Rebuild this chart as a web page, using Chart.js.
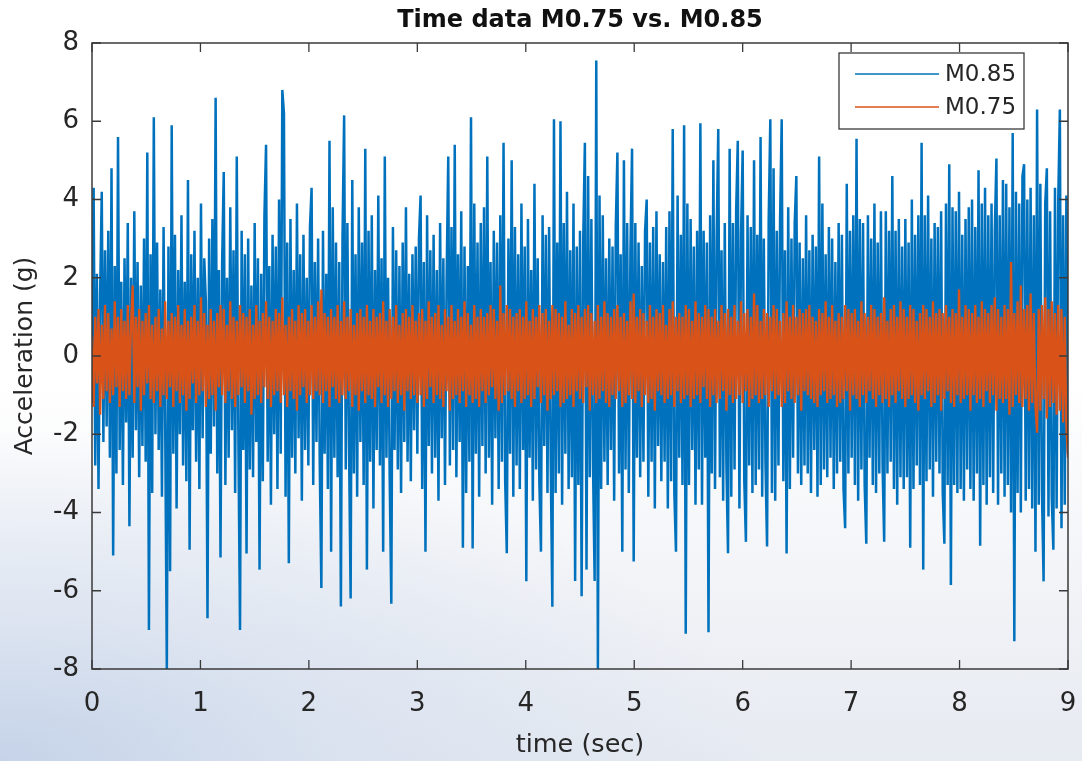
<!DOCTYPE html>
<html>
<head>
<meta charset="utf-8">
<script src="https://cdn.jsdelivr.net/npm/chart.js@4.4.0/dist/chart.umd.min.js"></script>
<style>
  html, body { margin: 0; padding: 0; width: 1082px; height: 761px; overflow: hidden; }
  body {
    background:
      radial-gradient(ellipse 760px 330px at 0% 100%, rgba(196,210,232,0.95) 0%, rgba(210,221,238,0.6) 45%, rgba(230,236,245,0) 100%),
      linear-gradient(to bottom, #ffffff 0%, #ffffff 50%, #f0f2f6 80%, #e6eaf1 100%);
  }
  #wrap { position: relative; width: 1082px; height: 761px; }
</style>
</head>
<body>
<div id="wrap"><canvas id="c" width="1082" height="761"></canvas></div>
<script>
// ---------------- data ----------------
const chartTitle = 'Time data M0.75 vs. M0.85';
const xAxisTitle = 'time (sec)';
const yAxisTitle = 'Acceleration (g)';
const seriesNames = ['M0.85', 'M0.75'];
const timeStart = 0;      // sec, first sample
const timeStep = 0.015;   // sec between plotted samples
const xTickValues = [0, 1, 2, 3, 4, 5, 6, 7, 8, 9];
const yTickValues = [-8, -6, -4, -2, 0, 2, 4, 6, 8];

// M0.85 acceleration (g) (20 samples = 0.3 s per row)
const accelM085 = [
  -1.2, 4.3, -2.8, 2.1, -3.4, 1.6, 4.2, -2.2, 2.7, -1.8, 3.2, -2.6, 4.8, -5.1, 2.3, -3.0, 5.6, -2.4, 1.9, -3.3,
  2.5, -1.7, 3.4, -4.35, 2.0, -2.6, 3.7, -1.9, 2.4, -3.1, 1.8, -2.3, 3.0, -2.7, 5.2, -7.0, 2.6, -3.5, 6.1, -2.0,
  2.9, -2.4, 1.7, -3.6, 3.3, -1.8, -8.0, 2.8, -5.5, 5.9, -2.5, 3.1, -3.9, 2.2, -2.0, 3.6, -2.8, 1.9, -3.2, 4.5,
  -4.95, 2.6, -1.9, 3.2, -2.7, 2.0, -3.4, 3.9, -2.1, 2.5, 1.4, -6.7, 3.0, -2.5, 3.5, -1.8, 6.6, -3.0, 2.2, -5.15,
  2.4, 4.7, -3.3, 2.0, -2.6, 3.8, -1.9, 2.7, -3.5, 5.1, -2.2, -7.0, 3.2, -2.4, 2.6, -5.05, 3.0, -2.9, 1.8, -3.1,
  3.4, -2.2, 2.5, -5.46, 2.1, -3.2, 3.6, 5.4, -2.7, 2.3, -3.8, 3.1, -2.0, 2.8, -3.4, 4.0, -2.5, 6.8, 6.2, -3.6,
  2.9, -5.3, 3.5, -2.6, 2.2, -3.0, 3.9, -2.1, 2.6, -3.7, 3.1, -2.4, 2.0, -2.8, 3.3, 4.3, -3.3, 2.4, -2.2, 3.0,
  -2.7, -5.93, 3.2, -2.5, 2.1, -3.4, 5.5, -5.0, 3.8, -2.6, 2.9, -3.1, 2.4, -6.4, 3.0, 6.15, -2.9, 3.4, -2.3, -6.2,
  4.5, -3.0, 2.6, -3.6, 3.8, -2.2, 2.9, -3.3, 5.3, -5.46, 3.2, -2.7, 3.6, -3.9, 2.2, -2.4, 4.1, -2.8, 2.5, -5.0,
  5.1, -2.6, 2.0, -3.1, -6.33, 3.3, -2.4, 2.7, -2.9, 2.3, -3.5, 2.9, -2.2, 3.8, -2.7, 2.1, -3.2, 2.6, -1.9, 2.8,
  -2.5, 3.0, 4.1, -3.4, 2.4, -5.0, 3.6, -2.3, 2.7, -3.0, 3.1, -2.6, 2.2, -3.7, 3.4, -2.1, 2.5, -3.3, 2.0, 5.1,
  -2.8, 3.3, -2.4, 5.4, -3.1, 2.6, -2.2, 3.7, -4.9, 2.8, -3.5, 2.3, -2.7, 6.1, -4.92, 3.9, -2.5, 2.9, -3.6, 3.4,
  -2.3, 3.8, -3.0, 5.1, -2.6, 2.4, -3.8, 3.2, -2.1, 2.9, -3.4, 3.6, -2.7, 5.45, -3.2, -5.04, 3.0, -2.5, 5.0, -3.6,
  3.3, -2.8, 2.6, -3.4, 3.9, -2.4, 2.8, -5.76, 3.5, -2.6, 2.2, -3.7, 4.4, -2.9, 2.5, -3.2, -5.0, 3.6, -2.3, 3.1,
  -3.5, 3.3, -2.7, -6.41, 6.05, -3.5, 2.9, -3.0, 6.0, -3.8, 3.4, -2.5, 4.2, -3.4, 2.7, -3.1, 3.9, -5.75, 2.8, -3.3,
  3.2, -6.14, 3.0, 5.45, -5.46, 4.6, -3.1, 3.5, -2.8, -5.75, 7.55, -8.0, 4.1, -3.4, 3.6, -2.7, 2.5, -3.3, 3.0, -2.4,
  2.8, -3.7, 3.3, 5.2, -3.0, 2.6, -5.0, 5.0, -2.9, 3.4, -3.5, 2.7, 5.3, -5.25, 3.4, -2.6, 2.9, -3.1, 2.3, -2.7,
  3.2, 4.0, -3.6, 2.9, -2.7, 3.3, -3.9, 3.7, -2.3, 2.6, -3.2, 2.4, -2.7, 3.3, -3.9, 3.7, -3.2, 5.8, -3.5, -5.0,
  4.1, -2.6, 3.1, -3.3, 5.9, -7.1, 3.9, -3.3, 3.5, -2.4, 2.8, -3.8, 3.2, -2.9, 5.95, -3.8, 3.2, -2.6, 2.9, -7.06,
  3.6, -3.0, 5.0, -3.4, 3.0, 5.8, -3.1, 2.7, -3.7, 3.4, -2.8, -5.04, 5.3, -3.6, 3.4, -2.9, 3.7, 5.5, -3.9, 3.1,
  5.25, -3.2, -4.75, 3.6, -2.8, 3.3, -3.5, 5.0, -3.3, 3.1, -2.9, 5.6, -3.6, 3.0, -2.7, -4.87, 3.5, 6.05, -3.5, 4.8,
  -3.7, 3.2, -2.8, 3.5, 6.05, -3.2, 2.7, -5.05, 3.8, -3.4, 3.0, -2.6, 3.4, 4.6, -3.0, 2.9, -3.3, 2.5, -2.8, 3.6,
  -3.0, 2.7, -3.5, 3.1, -2.4, 2.8, -3.6, 5.1, -3.3, 3.9, -2.9, 2.6, -3.1, 3.3, -2.6, 3.0, -3.4, 2.4, -3.0, 3.4,
  -2.7, 3.1, -3.4, -4.4, 4.4, -3.0, 3.2, -2.6, 3.6, -3.3, 5.55, -3.7, 3.5, -2.9, 3.4, -3.3, -4.8, 3.6, -2.6, 3.0,
  -3.3, 3.9, -3.5, 2.9, -3.0, 3.7, -2.8, -4.75, 3.7, -3.0, 3.2, -2.7, 4.6, -3.4, 3.2, -3.8, 3.5, -3.1, 2.8, -3.4,
  3.5, -3.1, 2.9, -4.9, 4.0, -3.4, 3.1, -2.8, 3.6, -3.3, 5.45, -5.46, 3.6, -3.2, 4.1, -2.9, 3.0, -3.6, 3.4, -2.7,
  3.3, -3.0, 3.7, -3.5, -4.8, 3.9, -3.3, 4.9, -5.85, 3.8, -3.3, 3.7, -3.5, 4.2, -3.4, 3.1, -3.7, 3.5, -2.9, 3.8,
  -3.4, 4.0, -3.7, 3.3, -3.0, 4.75, -4.85, 3.9, -3.3, 4.3, -3.8, 3.6, -3.1, 3.9, -3.5, 3.2, 5.05, -3.8, 3.6, -3.0,
  4.5, -3.6, 4.4, -3.3, 3.8, -4.0, 5.7, -7.29, 4.2, -3.5, 3.9, -4.0, 4.6, 4.9, -3.7, 4.0, -3.4, 4.3, -3.9, 3.6,
  -5.0, 6.3, -3.8, 4.4, -3.5, -5.76, 3.9, 4.8, -4.1, 3.7, -3.6, -4.95, 4.3, -3.9, 4.0, 6.3, -4.4, 3.6, -3.8, 4.1,
  -2.5
];

// M0.75 acceleration (g) (20 samples = 0.3 s per row)
const accelM075 = [
  0.5, -1.3, 1.0, -0.7, 1.2, -1.5, 0.8, -1.1, 1.3, -0.9, 1.1, -1.2, 0.7, -1.0, 1.4, -0.8, 1.0, -1.3, 1.2, -0.9,
  0.9, -1.1, 1.3, -1.0, 0.8, 1.8, -1.2, 1.0, -0.8, 1.2, -1.4, 0.9, -1.0, 1.1, -0.7, 1.3, -1.1, 0.8, -1.2, 1.0,
  -0.9, 1.2, -1.3, 0.7, -1.0, 1.4, -1.1, 0.9, -0.8, 1.1, -1.3, 1.0, -0.9, 1.3, -1.2, 0.8, -1.0, 1.2, -1.4, 0.9,
  -1.1, 1.0, -0.7, 1.3, -1.2, 0.9, -1.0, 1.5, -0.9, 1.1, -1.3, 0.8, -1.1, 1.2, -1.0, 0.9, -1.4, 1.1, -0.8, 1.3,
  -1.0, 1.2, -1.2, 0.8, -0.9, 1.4, -1.1, 1.0, -1.3, 0.9, -1.0, 1.3, -0.8, 1.1, -1.2, 1.0, -0.9, 1.2, -1.5, 0.8,
  -1.1, 1.3, -1.0, 0.9, -1.2, 1.1, -0.8, 1.4, -1.1, 1.0, -1.3, 0.9, -1.0, 1.2, -0.9, 1.1, -1.2, 1.5, -1.0, 0.8,
  -1.3, 1.0, -0.9, 1.2, -1.1, 0.9, -1.4, 1.3, -1.0, 1.1, -0.8, 1.2, -1.2, 0.9, -1.0, 1.3, -1.1, 1.0, -0.9, 1.4,
  -1.0, 1.7, -1.2, 1.1, -0.9, 1.0, -1.3, 1.2, -0.8, 1.0, -1.1, 1.3, -1.2, 0.9, -1.0, 1.4, -1.1, 1.0, -0.9, 1.2,
  -1.3, 0.8, -1.0, 1.1, -1.4, 1.2, -0.9, 1.0, -1.2, 1.3, -1.0, 0.9, -1.1, 1.2, -1.3, 1.0, -0.8, 1.1, -1.2, 1.4,
  -1.0, 0.9, -1.3, 1.2, -1.1, 1.0, -0.9, 1.3, -1.2, 0.8, -1.0, 1.1, -1.4, 1.2, -0.9, 1.0, -1.1, 1.3, -1.0, 0.9,
  -1.2, 1.1, -1.0, 1.2, -1.3, 0.9, -1.1, 1.4, -0.8, 1.0, -1.2, 1.1, -1.0, 1.3, -1.1, 0.8, -1.3, 1.2, -0.9, 1.0,
  -1.4, 1.3, -1.1, 0.9, -1.0, 1.2, -1.2, 1.0, -0.9, 1.4, -1.3, 1.1, -1.0, 0.8, -1.2, 1.3, -1.1, 1.0, -1.3, 1.2,
  -0.9, 1.0, -1.2, 1.1, -1.0, 1.3, -0.8, 1.2, -1.1, 0.9, -1.4, 1.8, -1.2, 1.1, -1.0, 1.3, -0.9, 1.2, -1.1, 1.0,
  -1.3, 1.1, -0.9, 1.2, -1.2, 1.0, -1.1, 1.4, -1.0, 0.9, -1.3, 1.2, -1.1, 1.0, -0.8, 1.3, -1.2, 1.1, -1.0, 1.2,
  -1.4, 0.9, -1.1, 1.3, -1.0, 1.2, -0.9, 1.1, -1.3, 1.0, -1.2, 1.4, -1.1, 0.8, -1.0, 1.2, -1.3, 1.1, -0.9, 1.3,
  -1.1, 1.0, -1.2, 1.2, -0.8, 1.3, -1.4, 1.1, -1.0, 0.9, -1.2, 1.3, -1.1, 1.0, -0.9, 1.4, -1.2, 1.1, -1.3, 1.0,
  -1.0, 1.2, -1.1, 1.3, -0.9, 1.0, -1.3, 1.1, -1.2, 0.9, -1.0, 1.4, -1.1, 1.6, -1.2, 1.0, -0.9, 1.2, -1.3, 1.1,
  -1.0, 0.9, -1.2, 1.3, -1.1, 1.0, -1.4, 1.2, -0.9, 1.1, -1.0, 1.3, -1.2, 0.8, -1.1, 1.2, -1.0, 1.4, -1.3, 1.0,
  -0.9, 1.1, -1.2, 1.0, -1.1, 1.3, -1.0, 1.2, -1.3, 0.9, -1.1, 1.4, -1.0, 1.1, -1.2, 1.0, -0.8, 1.3, -1.1, 1.2,
  -1.3, 1.0, -1.0, 1.2, -1.2, 0.9, -1.1, 1.3, -0.9, 1.1, -1.4, 1.2, -1.0, 1.0, -1.2, 1.3, -1.1, 0.9, -1.0, 1.4,
  -1.2, 1.1, -0.9, 1.2, -1.3, 1.0, -1.1, 1.6, -1.0, 1.3, -1.2, 0.9, -1.1, 1.2, -1.0, 1.1, -1.3, 1.0, -0.9, 1.3,
  -1.1, 1.2, -1.0, 0.9, -1.3, 1.1, -1.2, 1.4, -0.9, 1.0, -1.1, 1.3, -1.2, 1.0, -1.0, 1.2, -1.4, 1.1, -0.9, 1.2,
  -1.0, 1.3, -1.1, 1.0, -1.2, 0.9, -1.3, 1.2, -1.0, 1.1, -0.9, 1.4, -1.2, 1.0, -1.1, 1.3, -1.0, 0.9, -1.3, 1.1,
  -1.2, 1.0, -1.1, 1.3, -0.9, 1.2, -1.4, 1.1, -1.0, 1.2, -1.1, 0.9, -1.3, 1.4, -1.0, 1.1, -1.2, 1.0, -0.9, 1.3,
  -1.1, 1.2, -1.3, 1.0, -1.0, 1.1, -1.2, 1.5, -1.1, 0.9, -1.3, 1.2, -1.0, 1.3, -1.2, 1.0, -0.9, 1.4, -1.1, 1.2,
  -1.3, 1.0, -1.1, 1.3, -1.0, 1.2, -1.2, 0.9, -1.4, 1.1, -1.0, 1.3, -1.1, 1.2, -0.9, 1.0, -1.3, 1.4, -1.2, 1.1,
  -1.0, 1.2, -1.4, 1.1, -1.1, 1.3, -0.9, 1.0, -1.2, 1.2, -1.3, 1.1, -1.0, 1.7, -1.2, 1.0, -1.1, 1.3, -1.0, 1.2,
  -1.4, 1.1, -1.0, 1.3, -1.2, 1.0, -1.1, 1.4, -1.3, 1.2, -0.9, 1.1, -1.2, 1.3, -1.0, 1.5, -1.4, 1.2, -1.1, 1.0,
  -1.2, 1.3, -1.1, 1.2, -1.5, 2.4, -1.3, 1.1, -1.0, 1.4, -1.2, 1.8, -1.3, 1.2, -1.1, 1.3, -1.4, 1.6, -1.2, 1.1,
  -1.3, -1.96, 1.2, -1.4, 1.3, -1.1, 1.5, -1.6, 1.2, -1.3, 1.4, -1.2, 1.1, -1.5, 1.3, -1.4, 1.2, -1.7, 1.0, -1.8,
  -2.6
];

// ---------------- style ----------------
const FONT = "'DejaVu Sans', 'Liberation Sans', Arial, sans-serif";
const TEXT_COLOR = '#262626';
const AXIS_COLOR = '#3a3a3a';
const COLOR_M085 = '#0072BD';
const COLOR_M075 = '#D95319';

Chart.defaults.font.family = FONT;
Chart.defaults.color = TEXT_COLOR;

function toPoints(values) {
  return values.map((v, i) => ({ x: timeStart + i * timeStep, y: v }));
}

// MATLAB-like box, inward ticks and boxed legend
const matlabAxes = {
  id: 'matlabAxes',
  afterDatasetsDraw(chart, args, opts) {
    const { ctx, chartArea: a, scales: { x, y } } = chart;
    const tl = opts.tickLength;
    ctx.save();
    ctx.strokeStyle = AXIS_COLOR;
    ctx.lineWidth = 1.3;
    ctx.beginPath();
    x.ticks.forEach(t => {
      const px = x.getPixelForValue(t.value);
      ctx.moveTo(px, a.bottom); ctx.lineTo(px, a.bottom - tl);
      ctx.moveTo(px, a.top); ctx.lineTo(px, a.top + tl);
    });
    y.ticks.forEach(t => {
      const py = y.getPixelForValue(t.value);
      ctx.moveTo(a.left, py); ctx.lineTo(a.left + tl, py);
      ctx.moveTo(a.right, py); ctx.lineTo(a.right - tl, py);
    });
    ctx.stroke();
    ctx.lineWidth = 1.5;
    ctx.strokeRect(a.left, a.top, a.right - a.left, a.bottom - a.top);

    const L = opts.legend;
    const lx = a.right - L.rightGap - L.width;
    const ly = a.top + L.topGap;
    ctx.fillStyle = '#ffffff';
    ctx.fillRect(lx, ly, L.width, L.height);
    ctx.lineWidth = 1.3;
    ctx.strokeStyle = AXIS_COLOR;
    ctx.strokeRect(lx, ly, L.width, L.height);
    ctx.font = `${L.fontSize}px ${FONT}`;
    ctx.textAlign = 'left';
    ctx.textBaseline = 'middle';
    chart.data.datasets.forEach((ds, i) => {
      const rowY = ly + L.firstRow + i * L.rowGap;
      ctx.strokeStyle = ds.borderColor;
      ctx.lineWidth = 1.5;
      ctx.beginPath();
      ctx.moveTo(lx + L.lineStart, rowY);
      ctx.lineTo(lx + L.lineEnd, rowY);
      ctx.stroke();
      ctx.fillStyle = TEXT_COLOR;
      ctx.fillText(ds.label, lx + L.textStart, rowY + 1);
    });
    ctx.restore();
  }
};

new Chart(document.getElementById('c'), {
  type: 'line',
  data: {
    datasets: [
      {
        label: seriesNames[0],
        data: toPoints(accelM085),
        borderColor: COLOR_M085,
        borderWidth: 2.5,
        borderJoinStyle: 'miter',
        pointRadius: 0,
        tension: 0,
        fill: false,
        order: 1
      },
      {
        label: seriesNames[1],
        data: toPoints(accelM075),
        borderColor: COLOR_M075,
        borderWidth: 2.3,
        borderJoinStyle: 'miter',
        pointRadius: 0,
        tension: 0,
        fill: false,
        order: 0
      }
    ]
  },
  options: {
    responsive: false,
    animation: false,
    devicePixelRatio: 1,
    layout: { padding: { left: 0, right: 14, top: 0, bottom: 0 } },
    plugins: {
      legend: { display: false },
      tooltip: { enabled: false },
      title: {
        display: true,
        fullSize: false,
        text: chartTitle,
        color: '#111111',
        font: { family: FONT, size: 24, weight: 'bold' },
        padding: { top: 6, bottom: 8.2 }
      },
      matlabAxes: {
        tickLength: 9,
        legend: { width: 185, height: 76, rightGap: 44, topGap: 10, fontSize: 23,
                  firstRow: 21, rowGap: 33, lineStart: 16, lineEnd: 100, textStart: 106 }
      }
    },
    scales: {
      x: {
        type: 'linear',
        min: 0,
        max: 9,
        afterBuildTicks: s => { s.ticks = xTickValues.map(v => ({ value: v })); },
        afterFit: s => { s.height = 92; s.paddingLeft = 0; s.paddingRight = 0; },
        grid: { display: false, drawTicks: false },
        border: { display: false },
        ticks: {
          color: TEXT_COLOR,
          font: { family: FONT, size: 26 },
          padding: 20,
          maxRotation: 0,
          autoSkip: false
        },
        title: {
          display: true,
          text: xAxisTitle,
          color: TEXT_COLOR,
          font: { family: FONT, size: 25.5 },
          padding: { top: 0, bottom: 0 }
        }
      },
      y: {
        type: 'linear',
        min: -8,
        max: 8,
        afterBuildTicks: s => { s.ticks = yTickValues.map(v => ({ value: v })); },
        afterFit: s => { s.width = 92; s.paddingTop = 0; s.paddingBottom = 0; },
        grid: { display: false, drawTicks: false },
        border: { display: false },
        ticks: {
          color: TEXT_COLOR,
          font: { family: FONT, size: 26 },
          padding: 13,
          autoSkip: false
        },
        title: {
          display: true,
          text: yAxisTitle,
          color: TEXT_COLOR,
          font: { family: FONT, size: 25 },
          padding: { top: 10, bottom: 0 }
        }
      }
    }
  },
  plugins: [matlabAxes]
});
</script>
</body>
</html>
